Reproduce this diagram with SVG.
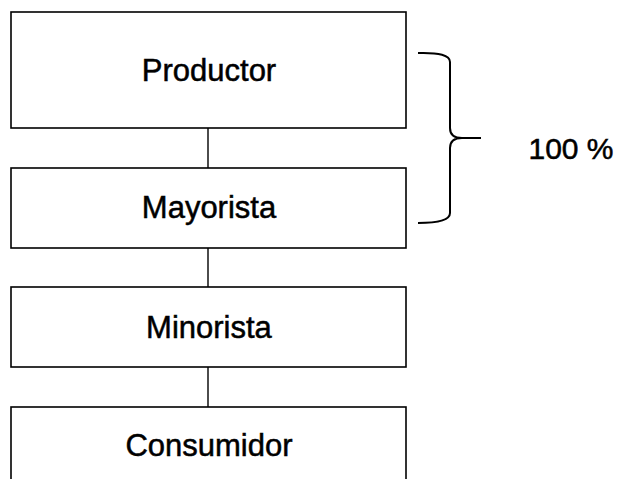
<svg xmlns="http://www.w3.org/2000/svg" width="621" height="479" viewBox="0 0 621 479">
<style>
.box{fill:#fff;stroke:#000;stroke-width:1.6}
.lbl{font-family:"Liberation Sans",Arial,sans-serif;font-size:31px;fill:#000;stroke:#000;stroke-width:0.5;text-anchor:middle}
.con{stroke:#000;stroke-width:1.4;fill:none}
</style>
<rect width="621" height="479" fill="#fff"/>
<g id="connectors">
<line class="con" x1="208" y1="128" x2="208" y2="168"/>
<line class="con" x1="208" y1="248" x2="208" y2="287"/>
<line class="con" x1="208" y1="367" x2="208" y2="407"/>
</g>
<g id="productor">
<rect class="box" x="11" y="12" width="395" height="116"/>
<text class="lbl" x="209" y="81">Productor</text>
</g>
<g id="mayorista">
<rect class="box" x="11" y="168" width="395" height="80"/>
<text class="lbl" x="209" y="218">Mayorista</text>
</g>
<g id="minorista">
<rect class="box" x="11" y="287" width="395" height="80"/>
<text class="lbl" x="209" y="338">Minorista</text>
</g>
<g id="consumidor">
<rect class="box" x="11" y="407" width="395" height="90"/>
<text class="lbl" x="209" y="456">Consumidor</text>
</g>
<g id="bracket">
<path d="M418,53 Q450,52 450,62 L450,128 Q450,138 462,138 L481,138 M462,138 Q450,138 450,148 L450,213 Q450,223 418,223" fill="none" stroke="#000" stroke-width="2"/>
<text x="571" y="159" font-family="'Liberation Sans',Arial,sans-serif" font-size="30" stroke="#000" stroke-width="0.5" text-anchor="middle">100 %</text>
</g>
</svg>
